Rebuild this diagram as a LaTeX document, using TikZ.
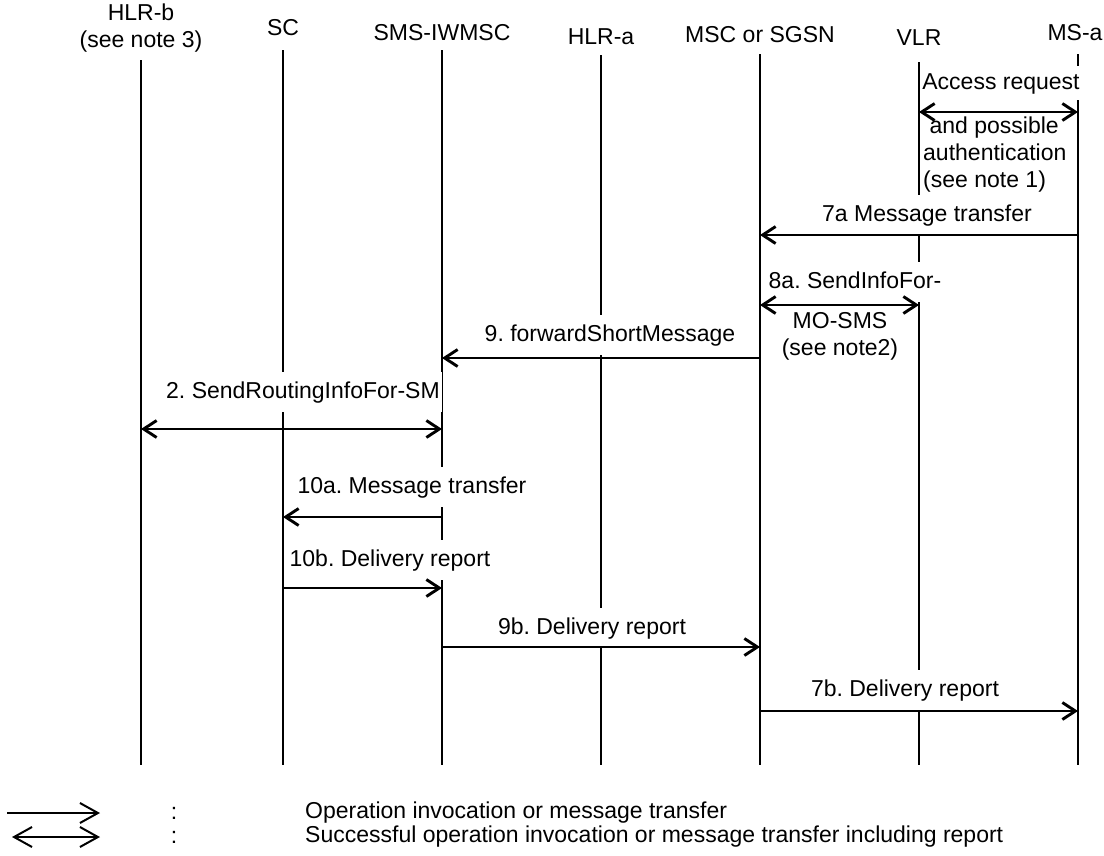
\documentclass[tikz,border=0pt]{standalone}
\usepackage{fontspec}
\setmainfont{Liberation Sans}
\usetikzlibrary{arrows.meta}
\frenchspacing
\begin{document}
\begin{tikzpicture}[x=1pt,y=-1pt,
  every node/.style={font=\fontsize{23}{27}\selectfont, inner sep=0pt},
  life/.style={line width=1.7pt},
  msg/.style={line width=2.9pt, -{Straight Barb[length=13pt,width=17pt]}},
  dmsg/.style={line width=2.9pt, {Straight Barb[length=13pt,width=17pt]}-{Straight Barb[length=13pt,width=17pt]}},
  lgmsg/.style={line width=2pt, -{Straight Barb[length=18pt,width=20pt]}},
  lgdmsg/.style={line width=2pt, {Straight Barb[length=18pt,width=20pt]}-{Straight Barb[length=18pt,width=20pt]}},
  lbl/.style={fill=white, inner xsep=2pt, inner ysep=0pt, minimum height=40pt, text height=17pt, text depth=5pt},
  hdr/.style={align=center},
]
\useasboundingbox (0,0) rectangle (1104,855);

% headers
\node[hdr] (h-hlrb) at (141,28) {HLR-b\\(see note 3)};
\node (h-sc) at (283,28) {SC};
\node (h-iw) at (442,33) {SMS-IWMSC};
\node (h-hlra) at (601,37) {HLR-a};
\node (h-msc) at (760,35) {MSC or SGSN};
\node (h-vlr) at (919,38) {VLR};
\node (h-msa) at (1075,33) {MS-a};

% lifeline tops and bottom
\coordinate (t-hlrb) at (141,60);
\coordinate (t-sc) at (283,50);
\coordinate (t-iw) at (442,50);
\coordinate (t-hlra) at (601,55);
\coordinate (t-msc) at (760,54);
\coordinate (t-vlr) at (919,62);
\coordinate (t-msa) at (1078,54);
\coordinate (bot) at (0,765);

\foreach \l in {hlrb,sc,iw,hlra,msc,vlr,msa}
  \draw[life] (t-\l) -- (t-\l |- bot);

% message rows
\coordinate (y-acc) at (0,112);
\coordinate (y-7a) at (0,235);
\coordinate (y-8a) at (0,305);
\coordinate (y-9) at (0,358);
\coordinate (y-2) at (0,429);
\coordinate (y-10a) at (0,517);
\coordinate (y-10b) at (0,588);
\coordinate (y-9b) at (0,647);
\coordinate (y-7b) at (0,711);

% labels
\node[lbl, minimum height=34pt] (l-acc) at (1001,83) {Access request};
\node[align=left, anchor=west] (l-auth) at (923,155) {\hspace*{6.4pt}and possible\\authentication\\(see note 1)};
\node[lbl] (l-7a) at (927,215) {7a Message transfer};
\node[lbl] (l-8a) at (855,282) {8a. SendInfoFor-};
\node[align=center] (l-mo) at (840,336) {MO-SMS\\(see note2)};
\node[lbl] (l-9) at (610,335) {9. forwardShortMessage};
\node[lbl] (l-2) at (303,392) {2. SendRoutingInfoFor-SM};
\node[lbl] (l-10a) at (412,487) {10a. Message transfer};
\node[lbl] (l-10b) at (390,560) {10b. Delivery report};
\node[lbl] (l-9b) at (592,628) {9b. Delivery report};
\node[lbl] (l-7b) at (905,690) {7b. Delivery report};

% messages
\draw[dmsg] (t-vlr |- y-acc) -- (t-msa |- y-acc);
\draw[msg] (t-msa |- y-7a) -- (t-msc |- y-7a);
\draw[dmsg] (t-msc |- y-8a) -- (t-vlr |- y-8a);
\draw[msg] (t-msc |- y-9) -- (t-iw |- y-9);
\draw[dmsg] (t-hlrb |- y-2) -- (t-iw |- y-2);
\draw[msg] (t-iw |- y-10a) -- (t-sc |- y-10a);
\draw[msg] (t-sc |- y-10b) -- (t-iw |- y-10b);
\draw[msg] (t-iw |- y-9b) -- (t-msc |- y-9b);
\draw[msg] (t-msc |- y-7b) -- (t-msa |- y-7b);

% legend
\coordinate (lg1a) at (7,813);
\coordinate (lg1b) at (100,813);
\coordinate (lg2a) at (12,837);
\coordinate (lg2b) at (100,837);
\draw[lgmsg] (lg1a) -- (lg1b);
\draw[lgdmsg] (lg2a) -- (lg2b);
\node (lg-c1) at (174,813) {:};
\node (lg-c2) at (174,837) {:};
\node[anchor=west] (lg-t1) at (305,813) {Operation invocation or message transfer};
\node[anchor=west] (lg-t2) at (305,837) {Successful operation invocation or message transfer including report};
\end{tikzpicture}
\end{document}
